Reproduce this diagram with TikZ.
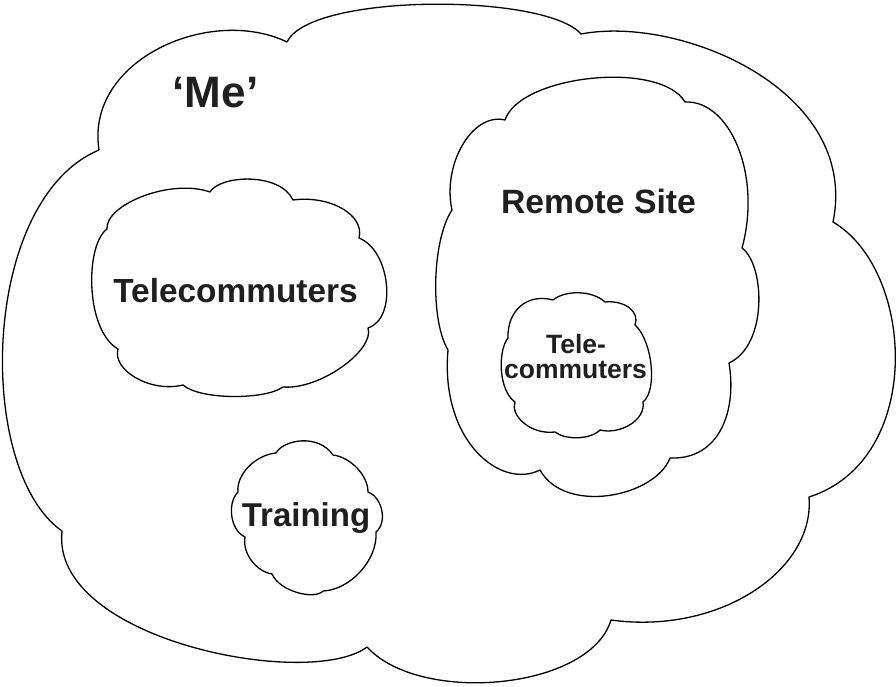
\documentclass[tikz,border=0pt]{standalone}
\usepackage{fontspec}
\setmainfont{Liberation Sans}
\tikzset{
  cloudline/.style={draw=black, line width=1.3pt, line join=round, fill=white},
  lbl/.style={anchor=base, inner sep=0pt, font=\bfseries, text=black!88}
}
\begin{document}
\begin{tikzpicture}[x=1pt,y=-1pt]
\useasboundingbox (0,0) rectangle (896,687);
% outer cloud
\path[cloudline] (287,42)
  .. controls (310,-7) and (545,-7) .. (581,34)
  .. controls (680,15) and (860,90) .. (833,222)
  .. controls (915,270) and (925,460) .. (809,497)
  .. controls (815,570) and (720,635) .. (611,620)
  .. controls (590,690) and (420,705) .. (367,647)
  .. controls (310,690) and (50,640) .. (62,531)
  .. controls (-25,470) and (-20,200) .. (99,150)
  .. controls (85,60) and (210,5) .. cycle;
% left telecommuters cloud
\path[cloudline] (107,229)
  .. controls (105,205) and (170,178) .. (210,192)
  .. controls (220,175) and (280,172) .. (293,200)
  .. controls (330,195) and (365,215) .. (359,238)
  .. controls (390,250) and (398,318) .. (368,328)
  .. controls (375,350) and (320,390) .. (283,387)
  .. controls (265,400) and (200,400) .. (183,385)
  .. controls (150,393) and (112,370) .. (118,349)
  .. controls (85,330) and (85,245) .. cycle;
% remote site cloud
\path[cloudline] (505,120)
  .. controls (520,75) and (660,60) .. (685,102)
  .. controls (730,100) and (762,175) .. (742,248)
  .. controls (765,265) and (768,345) .. (729,363)
  .. controls (737,410) and (720,460) .. (670,458)
  .. controls (655,497) and (565,515) .. (540,470)
  .. controls (500,490) and (440,440) .. (448,350)
  .. controls (430,320) and (432,240) .. (452,210)
  .. controls (442,165) and (472,112) .. cycle;
% small telecommuters cloud
\path[cloudline] (508,338)
  .. controls (507,310) and (528,293) .. (553,300)
  .. controls (565,290) and (592,290) .. (605,302)
  .. controls (625,300) and (640,312) .. (635,325)
  .. controls (652,340) and (658,390) .. (643,402)
  .. controls (646,420) and (620,435) .. (600,430)
  .. controls (590,440) and (565,440) .. (555,432)
  .. controls (530,435) and (510,415) .. (515,402)
  .. controls (498,390) and (498,350) .. cycle;
% training cloud
\path[cloudline] (276,453)
  .. controls (283,440) and (318,433) .. (333,455)
  .. controls (350,457) and (368,475) .. (368,492)
  .. controls (382,497) and (388,522) .. (376,532)
  .. controls (378,560) and (350,590) .. (323,591)
  .. controls (315,600) and (280,592) .. (272,574)
  .. controls (258,572) and (242,555) .. (245,537)
  .. controls (230,530) and (227,503) .. (238,492)
  .. controls (236,475) and (255,455) .. cycle;
% labels
\node[lbl, font=\bfseries\fontsize{44}{44}\selectfont] (me) at (215.5,108) {‘Me’};
\node[lbl, font=\bfseries\fontsize{33.4}{34}\selectfont] (tc) at (235.5,302) {Telecommuters};
\node[lbl, font=\bfseries\fontsize{33.7}{34}\selectfont] (rs) at (598.5,213) {Remote Site};
\node[lbl, font=\bfseries\fontsize{33}{34}\selectfont] (tr) at (306,526) {Training};
\node[lbl, font=\bfseries\fontsize{26.5}{27}\selectfont] (tc1) at (576,353) {Tele-};
\node[lbl, font=\bfseries\fontsize{26.5}{27}\selectfont] (tc2) at (575.5,378) {commuters};
\end{tikzpicture}
\end{document}
